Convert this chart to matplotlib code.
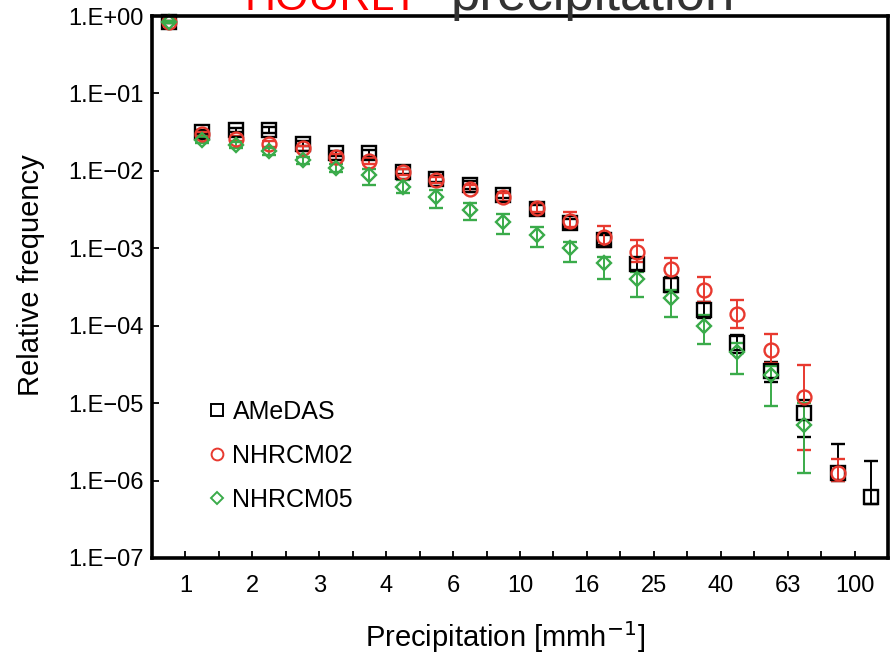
import numpy as np
from matplotlib import pyplot as plt
from matplotlib.lines import Line2D

plt.rcParams['font.family'] = ['Liberation Sans', 'DejaVu Sans']

# precipitation bins (tick labels on every other bin edge)
tick_labels = ['1', '2', '3', '4', '6', '10', '16', '25', '40', '63', '100']

nan = np.nan
# AMeDAS (observations)
amedas = [0.84, 0.032, 0.034, 0.034, 0.0225, 0.0168, 0.0168, 0.0098, 0.0078, 0.0066, 0.0049,
          0.0032, 0.0021, 0.00128, 0.00063, 0.00034, 0.00016, 5.9e-5, 2.6e-5, 7.4e-6, 1.25e-6, 6.2e-7]
amedas_lo = [0.82, 0.030, 0.032, 0.031, 0.021, 0.0155, 0.0150, 0.0090, 0.0071, 0.0059, 0.0044,
             0.0028, 0.0018, 0.0011, 0.00052, 0.00027, 0.000125, 4.5e-5, 1.9e-5, 3.7e-6, 1.0e-6, 5.0e-7]
amedas_hi = [0.86, 0.034, 0.036, 0.037, 0.024, 0.018, 0.0185, 0.0106, 0.0085, 0.0073, 0.0054,
             0.0036, 0.0024, 0.0015, 0.00075, 0.00042, 0.0002, 7.5e-5, 3.4e-5, 1.1e-5, 3.0e-6, 1.8e-6]

# NHRCM02
nh02 = [0.84, 0.030, 0.026, 0.0225, 0.0195, 0.0152, 0.0135, 0.0098, 0.0076, 0.0059, 0.0046,
        0.0033, 0.00225, 0.0014, 0.0009, 0.00054, 0.00029, 0.00014, 4.9e-5, 1.2e-5, 1.25e-6, nan]
nh02_lo = [0.82, 0.028, 0.024, 0.0205, 0.018, 0.014, 0.0122, 0.0089, 0.0069, 0.0053, 0.0041,
           0.0029, 0.0019, 0.00105, 0.00067, 0.00041, 0.000204, 9.3e-5, 3.3e-5, 2.5e-6, 1.0e-6, nan]
nh02_hi = [0.86, 0.032, 0.028, 0.0245, 0.021, 0.0165, 0.0148, 0.0107, 0.0084, 0.0066, 0.0052,
           0.0038, 0.0029, 0.00194, 0.00128, 0.00076, 0.00042, 0.000215, 7.8e-5, 3.1e-5, 1.9e-6, nan]

# NHRCM05
nh05 = [0.84, 0.025, 0.0215, 0.018, 0.0138, 0.011, 0.0088, 0.0062, 0.0046, 0.0031, 0.0022,
        0.0015, 0.0010, 0.00065, 0.0004, 0.00023, 0.0001, 4.6e-5, 2.3e-5, 5.2e-6, nan, nan]
nh05_lo = [0.82, 0.023, 0.0195, 0.016, 0.0123, 0.0096, 0.0066, 0.0052, 0.0033, 0.0023, 0.00153,
           0.00104, 0.00067, 0.0004, 0.000237, 0.000128, 5.8e-5, 2.4e-5, 9.2e-6, 1.26e-6, nan, nan]
nh05_hi = [0.86, 0.027, 0.0235, 0.020, 0.0153, 0.0124, 0.0105, 0.0076, 0.0057, 0.0038, 0.0028,
           0.0019, 0.00122, 0.00078, 0.0005, 0.00029, 0.000137, 6.0e-5, 3.0e-5, 1.0e-5, nan, nan]

x = np.arange(len(amedas)) + 0.5

fig = plt.figure(figsize=(8.91, 6.54), dpi=100)
ax = fig.add_axes([0.1706, 0.1468, 0.8260, 0.8287])

series = [
    (amedas, amedas_lo, amedas_hi, 's', 'black', 'AMeDAS'),
    (nh02, nh02_lo, nh02_hi, 'o', '#e8392f', 'NHRCM02'),
    (nh05, nh05_lo, nh05_hi, 'D', '#3aab4a', 'NHRCM05'),
]
handles = []
for v, lo, hi, m, c, name in series:
    v = np.array(v)
    err = [v - np.array(lo), np.array(hi) - v]
    ms = 7.5 if m == 'D' else 10
    ax.errorbar(x, v, yerr=err, fmt=m, mfc='none', mec=c, mew=1.7, ms=ms,
                ecolor=c, elinewidth=1.4, capsize=5, capthick=1.4, clip_on=False)
    handles.append(Line2D([], [], ls='none', marker=m, mfc='none', mec=c, mew=1.4,
                          ms=ms * 0.85, label=name))

ax.set_yscale('log')
ax.set_ylim(1e-7, 1)
ax.set_xlim(0, 22)
yt = [10.0 ** -k for k in range(8)]
ax.set_yticks(yt)
ax.set_yticklabels(['1.E+00'] + ['1.E\u2212%02d' % k for k in range(1, 8)])
ax.minorticks_off()
ax.set_xticks(range(1, 22))
xl = []
for i in range(21):
    xl.append(tick_labels[i // 2] if i % 2 == 0 else '')
ax.set_xticklabels(xl)
ax.tick_params(axis='both', direction='in', labelsize=17, colors='black', width=1.3)
ax.tick_params(axis='y', length=5, pad=6)
ax.tick_params(axis='x', length=5, pad=12)
for s in ax.spines.values():
    s.set_linewidth(2.6)

ax.set_ylabel('Relative frequency', fontsize=21)
ax.yaxis.set_label_coords(-0.145, 0.522)
ax.set_xlabel('Precipitation [mmh$^{-1}$]', fontsize=21)
ax.xaxis.set_label_coords(0.48, -0.112)

ax.legend(handles=handles, loc='upper left', bbox_to_anchor=(0.055, 0.31), frameon=False,
          fontsize=18, handletextpad=0.0, labelspacing=0.8, handlelength=1.2, borderaxespad=0)

# clipped title at the very top
fig.text(0.472, 1 - 10 / 654, 'HOURLY', color='red', fontsize=31, ha='right', va='baseline')
fig.text(0.506, 1 - 10 / 654, 'precipitation', color='#333333', fontsize=38, ha='left', va='baseline')

fig.savefig('out.png', dpi=100)
